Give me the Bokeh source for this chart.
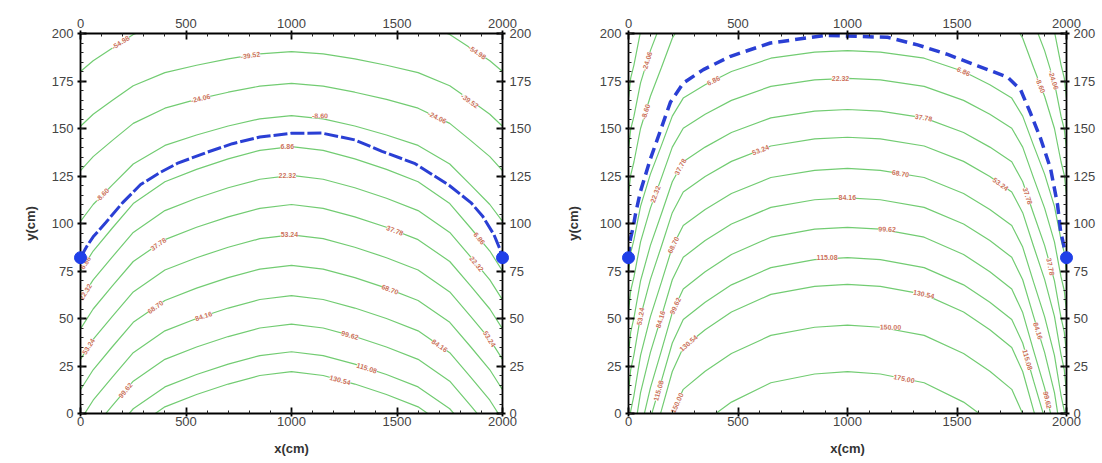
from bokeh.plotting import figure
from bokeh.models import LinearAxis, SingleIntervalTicker, Range1d, Title
from bokeh.layouts import row
from bokeh.embed import file_html
from bokeh.resources import INLINE
from bokeh.core.properties import value

# ---------------- LEFT PANEL DATA ----------------
left_x = [0, 60, 150, 250, 400, 550, 700, 850, 1000, 1150, 1300, 1450, 1600, 1750, 1850, 1940, 2000]
left_contours = [
    [180, 185.7, 192.3, 199.5, 205.8, 209.4, 212.4, 214.9, 216, 214.9, 212.4, 209.4, 205.8, 199.5, 192.3, 185.7, 180],
    [151.2, 157.5, 164.7, 172.5, 179.4, 183.3, 186.6, 189.3, 190.5, 189.3, 186.6, 183.3, 179.4, 172.5, 164.7, 157.5, 151.2],
    [127.8, 135.2, 143.6, 152.7, 160.7, 165.3, 169.1, 172.3, 173.7, 172.3, 169.1, 165.3, 160.7, 152.7, 143.6, 135.2, 127.8],
    [101.1, 110, 120.2, 131.3, 141.1, 146.6, 151.3, 155.1, 156.8, 155.1, 151.3, 146.6, 141.1, 131.3, 120.2, 110, 101.1],
    [75, 85.5, 97.5, 110.5, 122, 128.5, 134, 138.5, 140.5, 138.5, 134, 128.5, 122, 110.5, 97.5, 85.5, 75],
    [59.8, 70.3, 82.3, 95.3, 106.8, 113.3, 118.8, 123.3, 125.3, 123.3, 118.8, 113.3, 106.8, 95.3, 82.3, 70.3, 59.8],
    [44.5, 55, 67, 80, 91.5, 98, 103.5, 108, 110, 108, 103.5, 98, 91.5, 80, 67, 55, 44.5],
    [28.5, 39, 51, 64, 75.5, 82, 87.5, 92, 94, 92, 87.5, 82, 75.5, 64, 51, 39, 28.5],
    [12.5, 23, 35, 48, 59.5, 66, 71.5, 76, 78, 76, 71.5, 66, 59.5, 48, 35, 23, 12.5],
    [-3.5, 7, 19, 32, 43.5, 50, 55.5, 60, 62, 60, 55.5, 50, 43.5, 32, 19, 7, -3.5],
    [-18.5, -8, 4, 17, 28.5, 35, 40.5, 45, 47, 45, 40.5, 35, 28.5, 17, 4, -8, -18.5],
    [-33, -22.5, -10.5, 2.5, 14, 20.5, 26, 30.5, 32.5, 30.5, 26, 20.5, 14, 2.5, -10.5, -22.5, -33],
    [-43.5, -33, -21, -8, 3.5, 10, 15.5, 20, 22, 20, 15.5, 10, 3.5, -8, -21, -33, -43.5],
]
left_blue_x = [0, 30, 60, 120, 200, 285, 380, 458, 600, 720, 850, 1000, 1143, 1300, 1429, 1586, 1748, 1850, 1905, 1960, 1986, 2000]
left_blue_y = [82, 88, 93, 100.5, 111, 120.5, 127, 131.6, 137.5, 142, 145.5, 147.5, 147.6, 144, 138, 131.5, 120, 111, 104, 94, 87, 82]
left_dot_x = [0, 2000]
left_dot_y = [82, 82]
left_label_x = [190, 805, 569, 104, 1135, 980, 980, 990, 369, 355, 583, 213, 24, 24, 38,
                1880, 1845, 1690, 1490, 1467, 1277, 1357, 1230, 1702, 1877, 1890, 1938]
left_label_y = [195.2, 188.5, 165.8, 115, 156.7, 140.5, 125.3, 94, 89.1, 56, 51.2, 12.2, 79.2, 64, 35.2,
                190.1, 164.5, 155.9, 96.3, 65.3, 41.2, 23.9, 17.6, 35.7, 78.7, 92.2, 39.3]
left_label_text = ["-54.98", "-39.52", "-24.06", "-8.60", "-8.60", "6.86", "22.32", "53.24", "37.78", "68.70",
                   "84.16", "99.62", "6.86", "22.32", "53.24", "-54.98", "-39.52", "-24.06", "37.78", "68.70",
                   "99.62", "115.08", "130.54", "84.16", "22.32", "6.86", "53.24"]
left_label_angle = [33, 9, 13, 46, -1, 0, 0, 0, 35, 35, 18, 50, 58, 58, 58,
                    -34, -35, -26, -21, -21, -15, -18, -15, -35, -50, -50, -58]

# ---------------- RIGHT PANEL DATA ----------------
right_x = [0, 10, 25, 55, 100, 150, 200, 250, 350, 470, 650, 850, 1000,
           1150, 1350, 1530, 1650, 1750, 1800, 1850, 1900, 1945, 1975, 1990, 2000]
right_contours = [
    [166, 176.5, 183.5, 201, 218, 233, 248.5, 258, 265, 272, 279, 282.2, 283, 282.2, 279, 272, 265, 258, 248.5, 233, 218, 201, 183.5, 176.5, 166],
    [139, 149.5, 156.5, 174, 191, 206, 221.5, 231, 238, 245, 252, 255.2, 256, 255.2, 252, 245, 238, 231, 221.5, 206, 191, 174, 156.5, 149.5, 139],
    [115, 125.5, 132.5, 150, 167, 182, 197.5, 207, 214, 221, 228, 231.2, 232, 231.2, 228, 221, 214, 207, 197.5, 182, 167, 150, 132.5, 125.5, 115],
    [74, 84.5, 91.5, 109, 126, 141, 156.5, 166, 173, 180, 187, 190.2, 191, 190.2, 187, 180, 173, 166, 156.5, 141, 126, 109, 91.5, 84.5, 74],
    [53.5, 64.6, 71.9, 90.3, 108.1, 123.9, 140.2, 150.1, 157.5, 164.8, 172.2, 175.6, 176.4, 175.6, 172.2, 164.8, 157.5, 150.1, 140.2, 123.9, 108.1, 90.3, 71.9, 64.6, 53.5],
    [31.3, 42.8, 50.5, 69.8, 88.5, 105, 122, 132.5, 140.2, 147.9, 155.6, 159.1, 160, 159.1, 155.6, 147.9, 140.2, 132.5, 122, 105, 88.5, 69.8, 50.5, 42.8, 31.3],
    [10.8, 22.9, 31, 51.1, 70.6, 87.9, 105.7, 116.6, 124.7, 132.7, 140.8, 144.5, 145.4, 144.5, 140.8, 132.7, 124.7, 116.6, 105.7, 87.9, 70.6, 51.1, 31, 22.9, 10.8],
    [-11.4, 1.2, 9.6, 30.6, 51, 69, 87.6, 99, 107.4, 115.8, 124.2, 128, 129, 128, 124.2, 115.8, 107.4, 99, 87.6, 69, 51, 30.6, 9.6, 1.2, -11.4],
    [-32.8, -19.6, -10.9, 11, 32.2, 51, 70.4, 82.2, 91, 99.7, 108.5, 112.5, 113.5, 112.5, 108.5, 99.7, 91, 82.2, 70.4, 51, 32.2, 11, -10.9, -19.6, -32.8],
    [-54.1, -40.5, -31.4, -8.6, 13.5, 33, 53.1, 65.5, 74.6, 83.7, 92.8, 97, 98, 97, 92.8, 83.7, 74.6, 65.5, 53.1, 33, 13.5, -8.6, -31.4, -40.5, -54.1],
    [-70.1, -56.5, -47.4, -24.6, -2.5, 17, 37.1, 49.5, 58.6, 67.7, 76.8, 81, 82, 81, 76.8, 67.7, 58.6, 49.5, 37.1, 17, -2.5, -24.6, -47.4, -56.5, -70.1],
    [-87.6, -73.6, -64.3, -41.1, -18.5, 1.5, 22.1, 34.7, 44.1, 53.4, 62.7, 66.9, 68, 66.9, 62.7, 53.4, 44.1, 34.7, 22.1, 1.5, -18.5, -41.1, -64.3, -73.6, -87.6],
    [-111.5, -97.3, -87.8, -64.2, -41.3, -21, -0.1, 12.7, 22.2, 31.6, 41.1, 45.4, 46.5, 45.4, 41.1, 31.6, 22.2, 12.7, -0.1, -21, -41.3, -64.2, -87.8, -97.3, -111.5],
    [-147.7, -132.4, -122.3, -96.9, -72.3, -50.5, -28, -14.3, -4.1, 6, 16.2, 20.8, 22, 20.8, 16.2, 6, -4.1, -14.3, -28, -50.5, -72.3, -96.9, -122.3, -132.4, -147.7],
]
right_blue_x = [0, 9, 23, 32, 55, 100, 146, 192, 251, 342, 466, 648, 900, 1183, 1320, 1457, 1594, 1731, 1790, 1836, 1881, 1927, 1959, 1973, 2000]
right_blue_y = [82, 92, 99, 105, 117, 134, 149, 164, 174, 181, 188, 195, 199, 198, 194, 189, 183, 177, 170.5, 158, 145, 129, 110, 96, 82]
right_dot_x = [0, 2000]
right_dot_y = [82, 82]
right_label_x = [85, 78, 388, 237, 603, 123, 968, 1347, 1242, 1699, 999, 1530, 1881, 1822, 1941, 907,
                 205, 214, 146, 55, 274, 222, 137, 1181, 1348, 1196, 1258, 1870, 1822, 1913, 1927]
right_label_y = [185.3, 158.7, 175.2, 129.8, 138.7, 115.4, 176.4, 155.7, 126.3, 120.7, 113.5, 180, 172.7, 114.5, 175.5, 82,
                 88.7, 56.6, 49.5, 51.1, 37, 5.5, 12, 97, 62.8, 45.4, 18.3, 43.5, 28.3, 7.1, 77.3]
right_label_text = ["-24.06", "-8.60", "6.86", "37.78", "53.24", "22.32", "22.32", "37.78", "68.70", "53.24",
                    "84.16", "6.86", "-8.60", "37.78", "-24.06", "115.08", "68.70", "99.62", "84.16", "53.24",
                    "130.54", "150.00", "115.08", "99.62", "130.54", "150.00", "175.00", "84.16", "115.08", "99.62",
                    "37.78"]
right_label_angle = [73, 73, 27, 62, 22, 70, 0, -9, -10, -36, 0, -25, -69, -72, -73, 0,
                     64, 66, 73, 80, 40, 66, 74, -1, -11, -1, -12, -73, -74, -77, -78]

x_tick_interval = 500
y_tick_interval = 25
x_label = "x(cm)"
y_label = "y(cm)"

GREEN = "#72cc72"
BLUE = "#2a3fd4"
LABEL_COLOR = "#c4553a"
FONT = "Liberation Sans"


def style_axis(ax, interval, label=None, standoff=4):
    ax.ticker = SingleIntervalTicker(interval=interval, num_minor_ticks=5)
    ax.axis_line_color = "black"
    ax.axis_line_width = 1.8
    ax.major_tick_line_color = "black"
    ax.major_tick_line_width = 1.8
    ax.minor_tick_line_color = "#222222"
    ax.minor_tick_line_width = 1
    ax.major_tick_in = 6
    ax.major_tick_out = 3
    ax.minor_tick_in = 3
    ax.minor_tick_out = 0
    ax.major_label_text_font = FONT
    ax.major_label_text_font_size = "13px"
    ax.major_label_text_color = "#444444"
    ax.major_label_standoff = standoff
    if label:
        ax.axis_label = label
        ax.axis_label_text_font = FONT
        ax.axis_label_text_font_size = "13px"
        ax.axis_label_text_font_style = "bold"
        ax.axis_label_text_color = "#333333"
        ax.axis_label_standoff = 12


def make_panel(width, height, bl, br, bt, bb, cx, cys, bx, by, dash, bw, dx, dy, lx, ly, lt, la,
               yl_offset, yl_standoff):
    p = figure(width=width, height=height, x_range=Range1d(0, 2000), y_range=Range1d(0, 200),
               output_backend="svg", toolbar_location=None,
               min_border_left=bl, min_border_right=br, min_border_top=bt, min_border_bottom=bb)
    p.outline_line_color = None
    p.xgrid.visible = False
    p.ygrid.visible = False
    p.background_fill_color = "white"
    p.border_fill_color = "white"
    p.add_layout(LinearAxis(), "above")
    p.add_layout(LinearAxis(), "right")
    style_axis(p.below[0], x_tick_interval, x_label, standoff=0)
    style_axis(p.above[0], x_tick_interval, None, standoff=3)
    style_axis(p.left[0], y_tick_interval, None, standoff=4)
    style_axis(p.right[0], y_tick_interval, None, standoff=4)
    p.add_layout(Title(text=y_label, align="center", offset=yl_offset, standoff=yl_standoff,
                       text_font=FONT, text_font_size="13px", text_font_style="bold",
                       text_color="#333333"), "left")

    p.multi_line(xs=[cx] * len(cys), ys=cys, line_color=GREEN, line_width=1.2)
    p.text(x=lx, y=ly, text=lt, angle=la, angle_units="deg",
           text_align="center", text_baseline="middle",
           text_font=value(FONT), text_font_size=value("7px"), text_font_style="bold",
           text_color=LABEL_COLOR, text_alpha=0.85,
           background_fill_color="white", background_fill_alpha=0.9)
    p.line(bx, by, line_color=BLUE, line_width=bw, line_dash=dash)
    p.scatter(dx, dy, size=12, fill_color="#1f3fe8", line_color="#1f3fe8", level="overlay")
    return p


p1 = make_panel(542, 463, 80, 40, 33, 48, left_x, left_contours, left_blue_x, left_blue_y, "14 3", 3,
                left_dot_x, left_dot_y, left_label_x, left_label_y, left_label_text, left_label_angle, -21, 22)
p2 = make_panel(560, 463, 86, 36, 26, 50, right_x, right_contours, right_blue_x, right_blue_y, "11 6", 3.5,
                right_dot_x, right_dot_y, right_label_x, right_label_y, right_label_text, right_label_angle, -26, 32)

layout = row(p1, p2)
open("out.html", "w").write(file_html(layout, INLINE))
